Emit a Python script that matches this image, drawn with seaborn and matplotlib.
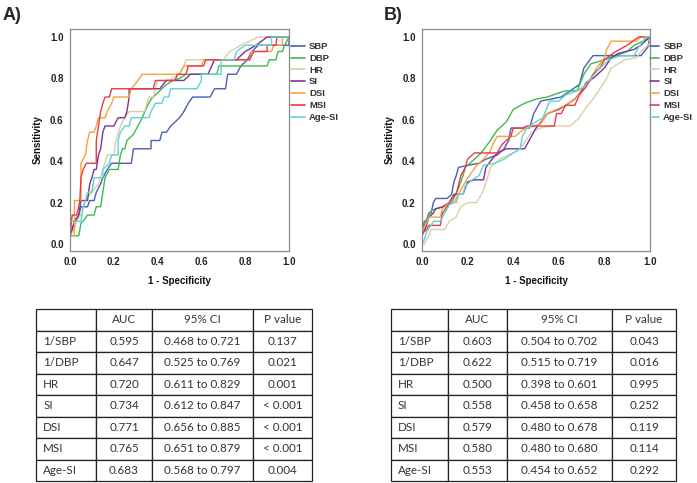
import matplotlib
matplotlib.use("Agg")
import matplotlib.pyplot as plt
import seaborn as sns
import pandas as pd

# ---------------- data ----------------
SERIES = ["SBP", "DBP", "HR", "SI", "DSI", "MSI", "Age-SI"]
COLORS = ["#4a5db8", "#3fb950", "#d9cfa6", "#7e3393", "#f7a23c", "#ea3a44", "#5fd3d3"]

# Panel A ROC vertices (1 - specificity, sensitivity)
A_SBP = [(0,0),(0,0.04),(0.02,0.1),(0.04,0.14),(0.05,0.18),(0.08,0.18),(0.09,0.21),(0.11,0.21),(0.12,0.25),(0.14,0.29),(0.15,0.32),(0.17,0.36),(0.19,0.39),(0.28,0.39),(0.29,0.46),(0.37,0.46),(0.37,0.5),(0.41,0.5),(0.42,0.54),(0.44,0.54),(0.46,0.57),(0.48,0.59),(0.5,0.61),(0.52,0.64),(0.54,0.68),(0.56,0.71),(0.64,0.71),(0.66,0.75),(0.71,0.75),(0.72,0.82),(0.76,0.82),(0.78,0.86),(0.81,0.89),(0.83,0.93),(0.86,0.96),(1.0,0.96),(1.0,1.0)]
A_DBP = [(0,0),(0,0.04),(0.04,0.04),(0.05,0.1),(0.06,0.11),(0.08,0.14),(0.11,0.14),(0.12,0.18),(0.14,0.18),(0.15,0.25),(0.16,0.32),(0.18,0.36),(0.22,0.36),(0.23,0.43),(0.24,0.46),(0.25,0.46),(0.26,0.5),(0.29,0.53),(0.31,0.57),(0.33,0.61),(0.35,0.66),(0.37,0.7),(0.4,0.73),(0.42,0.75),(0.44,0.77),(0.47,0.79),(0.5,0.8),(0.53,0.82),(0.67,0.82),(0.68,0.86),(0.9,0.86),(0.91,0.89),(0.94,0.89),(0.95,0.93),(0.97,0.93),(0.98,0.96),(1.0,1.0)]
A_HR = [(0,0),(0,0.04),(0.02,0.07),(0.03,0.11),(0.05,0.14),(0.07,0.21),(0.1,0.25),(0.13,0.29),(0.15,0.36),(0.17,0.43),(0.2,0.43),(0.21,0.5),(0.23,0.57),(0.25,0.61),(0.27,0.64),(0.34,0.64),(0.36,0.71),(0.38,0.71),(0.39,0.75),(0.4,0.79),(0.45,0.79),(0.5,0.82),(0.52,0.86),(0.53,0.89),(0.7,0.89),(0.73,0.93),(0.78,0.96),(0.86,1.0),(1.0,1.0)]
A_SI = [(0,0),(0,0.04),(0.02,0.11),(0.04,0.14),(0.05,0.21),(0.08,0.21),(0.09,0.29),(0.1,0.32),(0.11,0.36),(0.12,0.36),(0.13,0.43),(0.14,0.46),(0.15,0.54),(0.16,0.57),(0.2,0.57),(0.22,0.61),(0.25,0.61),(0.26,0.64),(0.27,0.71),(0.27,0.75),(0.41,0.75),(0.44,0.79),(0.52,0.79),(0.55,0.82),(0.63,0.82),(0.66,0.89),(0.76,0.89),(0.8,0.93),(0.85,0.96),(0.9,1.0),(1.0,1.0)]
A_DSI = [(0,0),(0,0.04),(0.02,0.04),(0.02,0.21),(0.05,0.21),(0.05,0.39),(0.07,0.43),(0.08,0.5),(0.09,0.54),(0.11,0.54),(0.12,0.57),(0.13,0.61),(0.16,0.61),(0.17,0.64),(0.19,0.68),(0.2,0.71),(0.27,0.71),(0.28,0.75),(0.31,0.79),(0.33,0.82),(0.5,0.82),(0.52,0.86),(0.6,0.86),(0.61,0.89),(0.82,0.89),(0.83,0.93),(0.92,0.93),(0.93,0.96),(0.97,0.96),(0.97,1.0),(1.0,1.0)]
A_MSI = [(0,0),(0,0.04),(0.01,0.14),(0.03,0.14),(0.04,0.18),(0.045,0.21),(0.05,0.32),(0.06,0.36),(0.075,0.39),(0.12,0.39),(0.12,0.5),(0.13,0.57),(0.14,0.64),(0.15,0.68),(0.16,0.71),(0.18,0.71),(0.19,0.75),(0.38,0.75),(0.39,0.79),(0.48,0.79),(0.49,0.82),(0.53,0.82),(0.54,0.86),(0.61,0.86),(0.62,0.89),(0.82,0.89),(0.84,0.93),(0.9,0.93),(0.9,0.96),(0.94,0.96),(0.945,1.0),(1.0,1.0)]
A_AGESI = [(0,0),(0,0.11),(0.05,0.11),(0.06,0.18),(0.07,0.21),(0.08,0.25),(0.1,0.25),(0.11,0.32),(0.15,0.32),(0.15,0.36),(0.18,0.39),(0.19,0.43),(0.22,0.43),(0.22,0.5),(0.23,0.54),(0.25,0.57),(0.27,0.57),(0.28,0.61),(0.36,0.61),(0.37,0.64),(0.39,0.68),(0.42,0.68),(0.43,0.71),(0.45,0.71),(0.46,0.75),(0.58,0.75),(0.6,0.79),(0.6,0.82),(0.69,0.82),(0.69,0.89),(0.75,0.89),(0.76,0.93),(0.8,0.96),(0.92,0.96),(0.92,1.0),(1.0,1.0)]

# Panel B ROC vertices
B_SBP = [(0,0),(0,0.05),(0.01,0.11),(0.02,0.11),(0.03,0.15),(0.04,0.15),(0.05,0.2),(0.06,0.22),(0.11,0.22),(0.13,0.24),(0.14,0.3),(0.15,0.33),(0.16,0.37),(0.2,0.38),(0.25,0.39),(0.28,0.41),(0.33,0.43),(0.36,0.46),(0.38,0.5),(0.39,0.56),(0.47,0.56),(0.48,0.59),(0.49,0.63),(0.52,0.69),(0.61,0.71),(0.65,0.74),(0.69,0.77),(0.71,0.85),(0.75,0.91),(0.96,0.91),(0.99,0.95),(1.0,1.0)]
B_DBP = [(0,0),(0,0.06),(0.02,0.12),(0.04,0.16),(0.06,0.17),(0.1,0.18),(0.13,0.2),(0.16,0.27),(0.18,0.33),(0.19,0.37),(0.22,0.4),(0.26,0.44),(0.3,0.5),(0.33,0.55),(0.37,0.59),(0.4,0.65),(0.45,0.68),(0.5,0.7),(0.55,0.71),(0.6,0.73),(0.63,0.74),(0.68,0.74),(0.71,0.82),(0.74,0.87),(0.8,0.89),(0.85,0.91),(0.9,0.93),(0.93,0.96),(0.97,0.98),(1.0,1.0)]
B_HR = [(0,0),(0.01,0),(0.03,0.04),(0.04,0.07),(0.1,0.07),(0.12,0.11),(0.15,0.13),(0.17,0.18),(0.2,0.2),(0.24,0.2),(0.27,0.26),(0.29,0.33),(0.3,0.37),(0.34,0.41),(0.38,0.43),(0.42,0.45),(0.45,0.49),(0.48,0.54),(0.52,0.56),(0.56,0.57),(0.65,0.57),(0.69,0.61),(0.72,0.66),(0.75,0.7),(0.78,0.75),(0.81,0.8),(0.83,0.85),(0.86,0.87),(0.89,0.89),(0.94,0.9),(0.96,0.93),(1.0,0.97),(1.0,1.0)]
B_SI = [(0,0),(0,0.04),(0.02,0.09),(0.03,0.13),(0.05,0.15),(0.06,0.17),(0.09,0.18),(0.12,0.2),(0.14,0.24),(0.18,0.24),(0.2,0.3),(0.23,0.31),(0.27,0.31),(0.28,0.37),(0.3,0.4),(0.33,0.44),(0.37,0.46),(0.45,0.46),(0.48,0.52),(0.5,0.56),(0.53,0.6),(0.55,0.63),(0.6,0.65),(0.63,0.67),(0.67,0.7),(0.7,0.74),(0.72,0.78),(0.75,0.8),(0.78,0.83),(0.8,0.85),(0.83,0.9),(0.86,0.92),(0.93,0.94),(0.96,0.96),(0.98,0.98),(1.0,1.0)]
B_DSI = [(0,0),(0,0.06),(0.02,0.1),(0.03,0.13),(0.08,0.13),(0.09,0.17),(0.12,0.2),(0.15,0.2),(0.16,0.24),(0.19,0.3),(0.22,0.35),(0.24,0.38),(0.27,0.41),(0.3,0.45),(0.31,0.48),(0.33,0.52),(0.41,0.52),(0.44,0.55),(0.46,0.56),(0.52,0.58),(0.55,0.63),(0.59,0.65),(0.63,0.67),(0.68,0.71),(0.7,0.75),(0.74,0.79),(0.76,0.84),(0.8,0.9),(0.81,0.94),(0.83,0.98),(0.94,0.98),(0.96,1.0),(1.0,1.0)]
B_MSI = [(0,0),(0,0.05),(0.02,0.07),(0.03,0.09),(0.08,0.09),(0.09,0.15),(0.11,0.18),(0.13,0.22),(0.15,0.24),(0.17,0.33),(0.19,0.37),(0.2,0.41),(0.23,0.44),(0.33,0.44),(0.35,0.48),(0.39,0.52),(0.4,0.56),(0.44,0.56),(0.46,0.57),(0.58,0.57),(0.59,0.63),(0.61,0.63),(0.63,0.67),(0.67,0.67),(0.69,0.72),(0.72,0.76),(0.75,0.82),(0.78,0.85),(0.8,0.89),(0.85,0.93),(0.9,0.96),(0.95,1.0),(1.0,1.0)]
B_AGESI = [(0,0),(0.01,0.02),(0.02,0.06),(0.04,0.09),(0.05,0.11),(0.08,0.11),(0.1,0.15),(0.12,0.19),(0.14,0.2),(0.16,0.24),(0.18,0.24),(0.19,0.28),(0.22,0.31),(0.25,0.33),(0.27,0.38),(0.32,0.39),(0.36,0.41),(0.4,0.44),(0.43,0.46),(0.44,0.52),(0.46,0.56),(0.5,0.59),(0.53,0.61),(0.56,0.69),(0.6,0.69),(0.63,0.72),(0.68,0.74),(0.71,0.76),(0.74,0.8),(0.78,0.85),(0.82,0.89),(0.87,0.91),(0.93,0.91),(0.95,0.95),(0.97,0.98),(0.98,1.0),(1.0,1.0)]

CURVES_A = [A_SBP, A_DBP, A_HR, A_SI, A_DSI, A_MSI, A_AGESI]
CURVES_B = [B_SBP, B_DBP, B_HR, B_SI, B_DSI, B_MSI, B_AGESI]

TICKS = [0.0, 0.2, 0.4, 0.6, 0.8, 1.0]
TICK_LABELS = ["0.0", "0.2", "0.4", "0.6", "0.8", "1.0"]

# Tables
TABLE_HEADER = ["", "AUC", "95% CI", "P value"]
TABLE_ROWS = ["1/SBP", "1/DBP", "HR", "SI", "DSI", "MSI", "Age-SI"]
A_AUC = ["0.595", "0.647", "0.720", "0.734", "0.771", "0.765", "0.683"]
A_CI = ["0.468 to 0.721", "0.525 to 0.769", "0.611 to 0.829", "0.612 to 0.847",
        "0.656 to 0.885", "0.651 to 0.879", "0.568 to 0.797"]
A_P = ["0.137", "0.021", "0.001", "< 0.001", "< 0.001", "< 0.001", "0.004"]
B_AUC = ["0.603", "0.622", "0.500", "0.558", "0.579", "0.580", "0.553"]
B_CI = ["0.504 to 0.702", "0.515 to 0.719", "0.398 to 0.601", "0.458 to 0.658",
        "0.480 to 0.678", "0.480 to 0.680", "0.454 to 0.652"]
B_P = ["0.043", "0.016", "0.995", "0.252", "0.119", "0.114", "0.292"]

# ---------------- drawing ----------------
sns.set_style("white")
plt.rcParams["font.family"] = ["Liberation Sans", "DejaVu Sans"]

W, H = 697, 483
fig = plt.figure(figsize=(W / 100, H / 100), dpi=100)


def fx(px):
    return px / W


def fy(py):
    return 1 - py / H


def make_df(curves):
    rows = []
    for name, pts in zip(SERIES, curves):
        for i, (x, y) in enumerate(pts):
            rows.append({"series": name, "order": i, "fpr": x, "tpr": y})
    return pd.DataFrame(rows)


def roc_panel(left_px, right_px, curves, legend_x_px, handlelength):
    top_px, bot_px = 29, 251
    ax = fig.add_axes([fx(left_px), fy(bot_px), fx(right_px - left_px), (bot_px - top_px) / H])
    df = make_df(curves)
    sns.lineplot(data=df, x="fpr", y="tpr", hue="series", hue_order=SERIES,
                 palette=COLORS, sort=False, estimator=None, units="series",
                 linewidth=1.0, ax=ax, legend=True)
    ax.set_xlim(0, 1)
    ax.set_ylim(-7 / 207, 1 + 8 / 207)
    ax.set_xticks(TICKS)
    ax.set_xticklabels(TICK_LABELS)
    ax.set_yticks(TICKS)
    ax.set_yticklabels(TICK_LABELS)
    ax.tick_params(axis="both", direction="out", length=3, width=0.7, color="#808080",
                   labelsize=7, pad=1.5, labelcolor="#222222")
    for lab in ax.get_xticklabels() + ax.get_yticklabels():
        lab.set_fontweight("bold")
    for s in ax.spines.values():
        s.set_color("#8a8a8a")
        s.set_linewidth(0.9)
    ax.set_xlabel("1 - Specificity", fontsize=7, fontweight="bold", labelpad=6, color="#111111")
    ax.set_ylabel("Sensitivity", fontsize=7, fontweight="bold", labelpad=5, color="#111111")
    handles, labels = ax.get_legend_handles_labels()
    leg = ax.legend(handles, labels, loc="upper left",
                    bbox_to_anchor=((legend_x_px - left_px) / (right_px - left_px), 1 - 13 / (bot_px - top_px)),
                    frameon=False, fontsize=6.8, handlelength=handlelength, handletextpad=0.4,
                    labelspacing=0.3, borderaxespad=0, borderpad=0)
    for t in leg.get_texts():
        t.set_fontweight("bold")
        t.set_color("#333333")
    for lh in leg.get_lines():
        lh.set_linewidth(1.2)
    return ax


roc_panel(70, 289, CURVES_A, 291, 1.5)
roc_panel(422, 650, CURVES_B, 650, 1.0)

fig.text(fx(3), fy(15), "A)", fontsize=13, fontweight="bold", va="center", ha="left")
fig.text(fx(384), fy(15), "B)", fontsize=13, fontweight="bold", va="center", ha="left")


def draw_table(left_px, right_px, col_px, auc, ci, p):
    top_px, bot_px = 309, 481
    ax = fig.add_axes([fx(left_px), fy(bot_px), fx(right_px - left_px), (bot_px - top_px) / H])
    ax.axis("off")
    cells = [[r, a, c, q] for r, a, c, q in zip(TABLE_ROWS, auc, ci, p)]
    widths = [(b - a) / (right_px - left_px) for a, b in zip(col_px[:-1], col_px[1:])]
    tab = ax.table(cellText=cells, colLabels=TABLE_HEADER, colWidths=widths,
                   bbox=[0, 0, 1, 1], cellLoc="center")
    tab.auto_set_font_size(False)
    for (r, c), cell in tab.get_celld().items():
        cell.set_edgecolor("#222222")
        cell.set_linewidth(0.9)
        cell.set_facecolor("white")
        txt = cell.get_text()
        txt.set_fontsize(8.4)
        txt.set_color("#333333")
        txt.set_fontfamily(["Lato", "DejaVu Sans"])
        if c == 0 and r > 0:
            txt.set_ha("left")
            cell.PAD = 0.12
    return tab


draw_table(36, 312, [36, 96, 152, 253, 312], A_AUC, A_CI, A_P)
draw_table(391, 676, [391, 448, 507, 612, 676], B_AUC, B_CI, B_P)

fig.savefig("out.png", dpi=100, facecolor="white")
